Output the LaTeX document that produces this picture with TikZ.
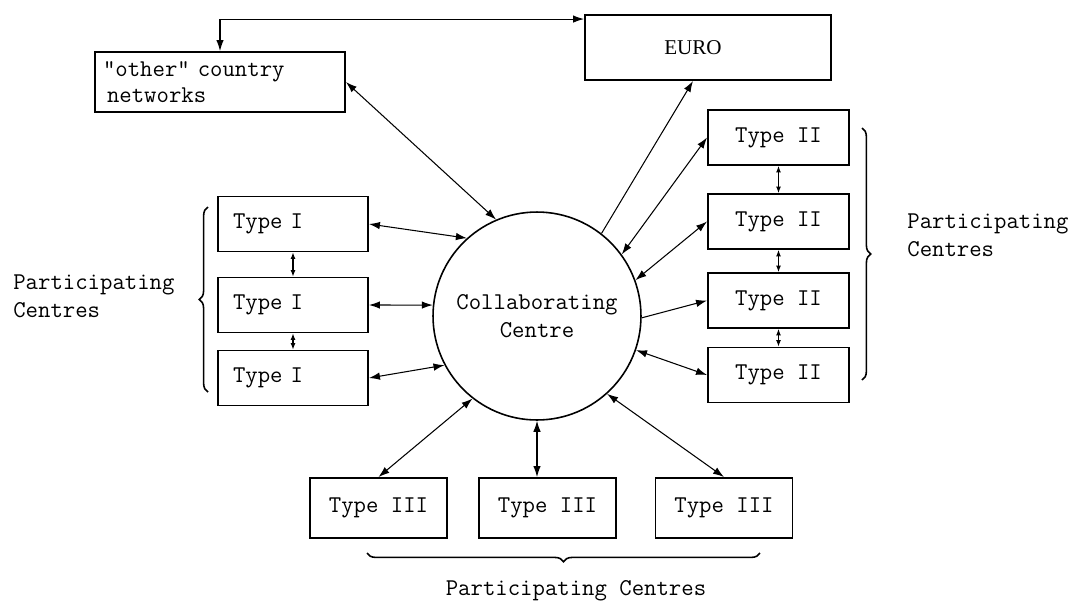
\documentclass[tikz,border=0pt]{standalone}
\usepackage{fontspec}
\setmainfont{Liberation Serif}
\usetikzlibrary{positioning,arrows.meta,calc,decorations.pathreplacing}
\tikzset{
  unitbox/.style={draw, line width=1.1pt, minimum height=1.1cm, inner sep=0pt, font=\ttfamily\fontsize{13.7}{15}\selectfont},
  typeone/.style={unitbox, text width=2.4cm, inner xsep=0.3cm, align=left},
  typetwo/.style={unitbox, minimum width=2.82cm},
  typethree/.style={unitbox, minimum width=2.74cm, minimum height=1.2cm},
  hub/.style={circle, draw, line width=0.9pt, minimum size=4.16cm, align=center, font=\ttfamily\fontsize{13.7}{16}\selectfont},
  dblarr/.style={{Latex[length=2.2mm,width=1.5mm]}-{Latex[length=2.2mm,width=1.5mm]}, line width=0.6pt},
  onearr/.style={-{Latex[length=2.2mm,width=1.5mm]}, line width=0.6pt},
  tinyarr/.style={{Latex[length=1.3mm,width=1mm]}-{Latex[length=1.3mm,width=1mm]}, line width=0.6pt},
  curly/.style={decorate, decoration={brace, amplitude=5pt}, line width=0.9pt},
  caption/.style={align=left, inner sep=0pt, font=\ttfamily\fontsize{13.7}{16}\selectfont}
}

\begin{document}
\begin{tikzpicture}[x=0.02cm, y=-0.02cm]
  \useasboundingbox (0,0) rectangle (1076,603);

  % hub and outside links
  \node[hub] (cc) at (537,316) {Collaborating\\Centre};
  \node[unitbox, text width=4.68cm, inner xsep=0.16cm, minimum height=1.2cm, align=left] (oth) at (220,82) {"other" country\\\hspace{0.08cm}networks};
  \node[unitbox, minimum width=4.92cm, minimum height=1.3cm, font=\rmfamily\fontsize{12}{14}\selectfont] (euro) at (708,47.5) {\hspace{-0.6cm}EURO};

  % type I column
  \node[typeone] (t11) at (293,224) {Type I};
  \node[typeone] (t12) at (293,305) {Type I};
  \node[typeone] (t13) at (293,378) {Type I};

  % type II column
  \node[typetwo] (t21) at (778.5,137.5) {Type II};
  \node[typetwo] (t22) at (778.5,221.5) {Type II};
  \node[typetwo] (t23) at (778.5,300.5) {Type II};
  \node[typetwo] (t24) at (778.5,375) {Type II};

  % type III row
  \node[typethree] (t31) at (378.5,508) {Type III};
  \node[typethree] (t32) at (547.5,508) {Type III};
  \node[typethree] (t33) at (724,508) {Type III};

  % labels
  \node[caption, anchor=west] (lbl1) at (13,296) {Participating\\Centres};
  \node[caption, anchor=west] (lbl2) at (907,235) {Participating\\Centres};
  \node[caption] (lbl3) at (576,591) {Participating Centres};

  % links
  \draw[dblarr] (oth.north) |- ([yshift=-0.1cm]euro.north west);
  \draw[dblarr] (oth.east) -- (cc.113);
  \draw[onearr] (cc.52) -- ([xshift=-0.3cm]euro.south);
  \draw[dblarr] (t11.east) -- (cc.132);
  \draw[dblarr] (t12.east) -- (cc.174);
  \draw[dblarr] (t13.east) -- (cc.208);
  \draw[dblarr] (t21.west) -- (cc.36);
  \draw[dblarr] (t22.west) -- (cc.20);
  \draw[onearr] (cc.-1) -- (t23.west);
  \draw[dblarr] (t24.west) -- (cc.-19);
  \draw[dblarr] (t31.north) -- (cc.232);
  \draw[dblarr] (cc.south) -- (cc.south |- t32.north);
  \draw[dblarr] (t33.north) -- (cc.-48);
  \draw[tinyarr] (t11) -- (t12);
  \draw[tinyarr] (t12) -- (t13);
  \draw[tinyarr] (t21) -- (t22);
  \draw[tinyarr] (t22) -- (t23);
  \draw[tinyarr] (t23) -- (t24);

  % braces
  \draw[curly] (208,392) -- (208,207);
  \draw[curly] (862,128) -- (862,380);
  \draw[curly] (760,553) -- (367,553);
\end{tikzpicture}
\end{document}
